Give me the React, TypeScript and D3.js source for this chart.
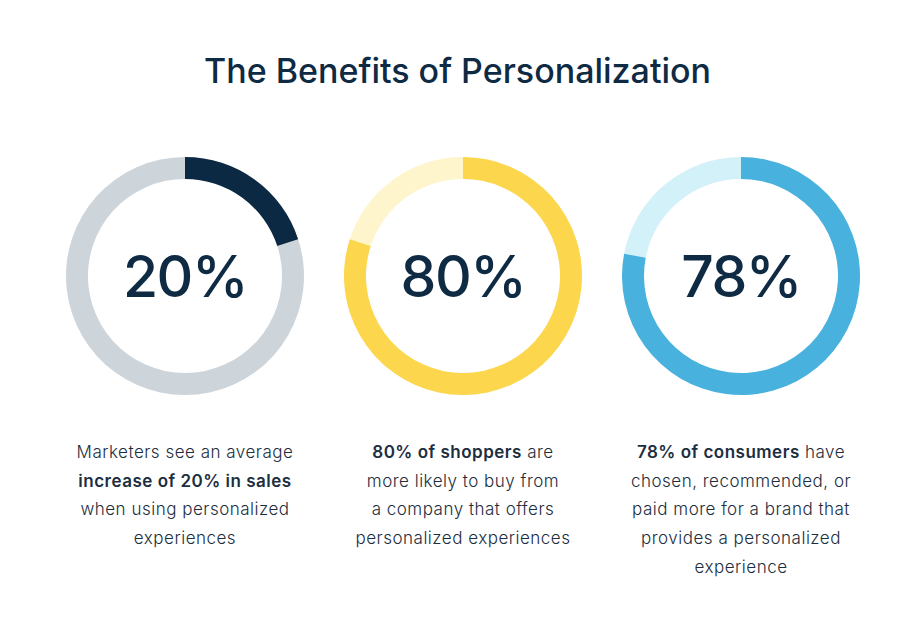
import React from "react";
import * as d3 from "d3";

const title = "The Benefits of Personalization";
const values = [20, 80, 78];
const valueLabels = ["20%", "80%", "78%"];
const mainColors = ["#0b2942", "#fcd64c", "#48b1dd"];
const trackColors = ["#cdd5db", "#fff5cc", "#d3f1f8"];
// caption lines: each line is list of [text, bold]
const captions: [string, boolean][][][] = [
  [
    [["Marketers see an average", false]],
    [["increase of 20% in sales", true]],
    [["when using personalized", false]],
    [["experiences", false]],
  ],
  [
    [["80% of shoppers", true], [" are", false]],
    [["more likely to buy from", false]],
    [["a company that offers", false]],
    [["personalized experiences", false]],
  ],
  [
    [["78% of consumers", true], [" have", false]],
    [["chosen, recommended, or", false]],
    [["paid more for a brand that", false]],
    [["provides a personalized", false]],
    [["experience", false]],
  ],
];

const W = 909;
const H = 641;
const FONT = "Inter, 'Open Sans', sans-serif";

export default function App() {
  const x = d3.scalePoint<number>().domain([0, 1, 2]).range([185, 741]);
  const cy = 276;
  const outerR = 119;
  const innerR = 97;
  const pct = d3.scaleLinear().domain([0, 100]).range([0, 2 * Math.PI]);
  const arc = d3.arc<any>().innerRadius(innerR).outerRadius(outerR);

  return (
    <svg
      width={W}
      height={H}
      style={{ position: "absolute", left: 0, top: 0, background: "#fff" }}
      fontFamily={FONT}
    >
      <rect width={W} height={H} fill="#fff" />
      <text
        x={W / 2 + 3}
        y={83}
        textAnchor="middle"
        fontSize={34}
        fontWeight={500}
        fill="#0f2a43"
      >
        {title}
      </text>
      {values.map((v, i) => {
        const cx = x(i) as number;
        return (
          <g key={i} transform={`translate(${cx},${cy})`}>
            <path
              d={arc({ startAngle: pct(v), endAngle: pct(100) }) as string}
              fill={trackColors[i]}
            />
            <path
              d={arc({ startAngle: pct(0), endAngle: pct(v) }) as string}
              fill={mainColors[i]}
            />
            <text
              y={21}
              textAnchor="middle"
              fontSize={57}
              fontWeight={500}
              letterSpacing={-1.5}
              fill="#0f2a43"
            >
              {valueLabels[i]}
            </text>
          </g>
        );
      })}
      {captions.map((lines, i) => {
        const cx = x(i) as number;
        return (
          <text
            key={i}
            textAnchor="middle"
            fontSize={17}
            letterSpacing={0.5}
            fill="#1c2e40"
          >
            {lines.map((segs, j) => (
              <tspan key={j} x={cx} y={458 + j * 28.7}>
                {segs.map(([t, b], k) => (
                  <tspan key={k} fontWeight={b ? 600 : 300}>
                    {t}
                  </tspan>
                ))}
              </tspan>
            ))}
          </text>
        );
      })}
    </svg>
  );
}
